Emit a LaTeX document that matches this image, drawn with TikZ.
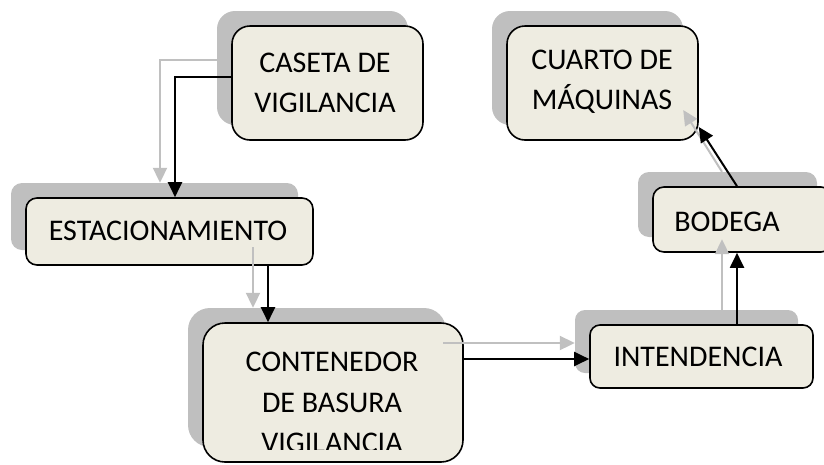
\documentclass[tikz,border=0pt]{standalone}
\usepackage{fontspec}
\setmainfont{Carlito}
\usetikzlibrary{arrows.meta,calc}
\definecolor{boxfill}{HTML}{EEECE1}
\definecolor{shade}{HTML}{BFBFBF}
\definecolor{greyarrow}{HTML}{C0C0C0}
\begin{document}
\begin{tikzpicture}[x=1pt,y=-1pt,
  box/.style={draw=black,line width=1.6pt,fill=boxfill,rounded corners=#1,inner sep=0pt,
    font=\fontsize{30}{40}\selectfont,align=center},
  box/.default=12pt,
  shadowbox/.style={fill=shade,rounded corners=#1,inner sep=0pt},
  shadowbox/.default=12pt,
  lbl/.style={inner sep=0pt,font=\fontsize{30}{40}\selectfont},
  blk/.style={draw=black,line width=2pt,-{Triangle[length=15pt,width=14pt]}},
  gry/.style={draw=greyarrow,line width=2pt,-{Triangle[length=15pt,width=14pt]}}
]
\useasboundingbox (0,0) rectangle (824,464);
% shadows
\node[shadowbox=18pt,minimum width=191pt,minimum height=114pt] (scaseta) at (312.5,68) {};
\node[shadowbox=18pt,minimum width=191pt,minimum height=114pt] (scuarto) at (587.5,68) {};
\node[shadowbox=11pt,minimum width=287pt,minimum height=67pt] (sestac) at (154.5,216.5) {};
\node[shadowbox=22pt,minimum width=258pt,minimum height=139pt] (scont) at (317,377.5) {};
\node[shadowbox=10pt,minimum width=223pt,minimum height=63pt] (sintend) at (686.5,341.5) {};
\node[shadowbox=11pt,minimum width=179pt,minimum height=65pt] (sbodega) at (727.5,204.5) {};
% front boxes
\node[box=18pt,minimum width=191pt,minimum height=114pt] (caseta) at (327.5,83) {};
\node[lbl,align=center] (casetatxt) at (325,83) {CASETA DE\\VIGILANCIA};
\node[box=18pt,minimum width=191pt,minimum height=114pt] (cuarto) at (602.5,83) {};
\node[lbl,align=center] (cuartotxt) at (602,82) {CUARTO DE\\MÁQUINAS};
\node[box=11pt,minimum width=287pt,minimum height=67pt] (estac) at (169.5,231.5) {};
\node[lbl] (estactxt) at (168,231) {ESTACIONAMIENTO};
\node[box=22pt,minimum width=260pt,minimum height=139pt] (cont) at (333,392.5) {};
\node[box=10pt,minimum width=223pt,minimum height=63pt] (intend) at (701.5,356.5) {};
\node[lbl] (intendtxt) at (698,357) {INTENDENCIA};
\node[box=11pt,minimum width=179pt,minimum height=65pt] (bodega) at (742.5,219.5) {};
\node[lbl] (bodegatxt) at (727,222) {BODEGA};
\begin{scope}
  \clip (200,330) rectangle (470,449.5);
  \node[lbl,anchor=base] (ct1) at (332,371) {CONTENEDOR};
  \node[lbl,anchor=base] (ct2) at (332,412) {DE BASURA};
  \node[lbl,anchor=base] (ct3) at (332,452) {VIGILANCIA};
\end{scope}
% grey connectors
\draw[gry] ($(scaseta.west)+(0,-8)$) -| ($(sestac.north)+(5.5,0)$);
\draw[gry] ($(sestac.south)+(98.5,-3)$) -- ($(scont.north)+(-64,0)$);
\draw[gry] ($(scont.east)+(-3,-34.5)$) -- ($(sintend.west)+(0,1.5)$);
\draw[gry] ($(sintend.north)+(35.5,0)$) -- ($(sbodega.south)+(-5.5,2)$);
\draw[gry] ($(sbodega.north)+(-5.5,0)$) -- ($(scuarto.east)+(0,42)$);
% black connectors
\draw[blk] ($(caseta.west)+(0,-6)$) -| ($(estac.north)+(5.5,0)$);
\draw[blk] ($(estac.south)+(98.5,0)$) -- ($(cont.north)+(-65,0)$);
\draw[blk] ($(cont.east)+(0,-33.5)$) -- ($(intend.west)+(0,2.5)$);
\draw[blk] ($(intend.north)+(35.5,0)$) -- ($(bodega.south)+(-5.5,0)$);
\draw[blk] ($(bodega.north)+(-5.5,0)$) -- ($(cuarto.east)+(0,44)$);
\end{tikzpicture}
\end{document}
